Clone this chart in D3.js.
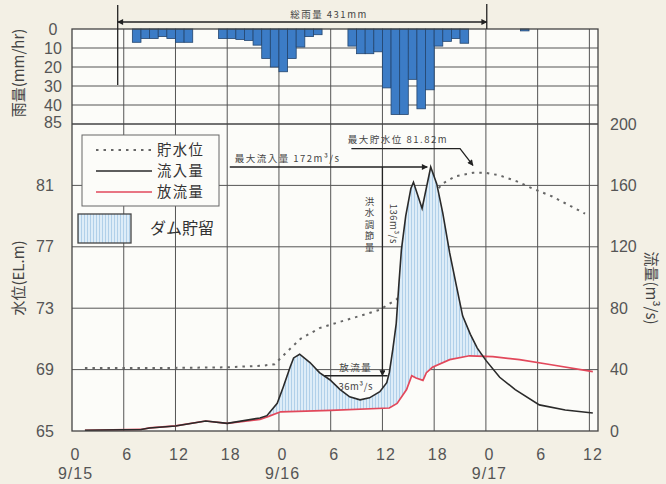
<!DOCTYPE html>
<html>
<head>
<meta charset="utf-8">
<script src="https://d3js.org/d3.v7.min.js"></script>
<style>
  body { margin: 0; background: #f3f0e5; }
  svg { display: block; font-family: "Noto Sans CJK JP", "Noto Sans", sans-serif; }
  .num { font-family: "Liberation Sans", Arial, sans-serif; font-size: 16px; fill: #555; }
</style>
</head>
<body>
<svg id="root" width="666" height="484"></svg>
<script>
// hours counted from 9/15 0:00
const hourTicks = [0, 6, 12, 18, 24, 30, 36, 42, 48, 54, 60];
const hourLabels = ["0", "6", "12", "18", "0", "6", "12", "18", "0", "6", "12"];
const dateTicks = [0, 24, 48];
const dateLabels = ["9/15", "9/16", "9/17"];
const levelTicks = [65, 69, 73, 77, 81, 85];
const flowTicks = [0, 40, 80, 120, 160, 200];
const rainTicks = [0, 10, 20, 30, 40];

// hourly rainfall (mm/hr), bar starts at hour
const rainHours = [7, 8, 9, 10, 11, 12, 13,
  17, 18, 19, 20, 21, 22, 23, 24, 25, 26, 27, 28,
  32, 33, 34, 35, 36, 37, 38, 39, 40, 41, 42, 43, 44, 45,
  52];
const rainValues = [7, 5, 5, 4, 5, 7, 7,
  5, 5, 5.5, 6, 8.5, 15.5, 20, 22.5, 15.5, 9.5, 4, 3,
  9, 13, 13, 12, 31, 45, 45, 26.5, 42, 32, 9, 6.5, 5, 7.5,
  1];

// inflow 流入量 (m3/s)
const inflowHours = [1.5, 8, 9, 12, 15.5, 18, 21.8, 22.6, 23.8, 24.5, 25.3, 25.7, 26.4,
  27.6, 28.7, 29.9, 31.1, 32.2, 33.4, 34.5, 35.7, 36.5, 36.8, 37.2, 37.6, 37.9, 38.2,
  38.7, 39.3, 39.6, 40.6, 41.6, 42.3, 43, 43.8, 44.6, 45.3, 46.2, 47, 48, 49.6, 51.4,
  54.2, 57.2, 60.4];
const inflowValues = [0.5, 1, 2, 3.3, 6.5, 5, 8.5, 10, 18, 28.7, 41.7, 47.6, 50,
  44.6, 38, 33.4, 27, 22.3, 20.3, 21.6, 25.6, 31.5, 38, 53, 70, 95, 118,
  140, 158, 162, 145, 172, 161, 142, 116, 94, 75, 63, 54, 46, 35, 27,
  17, 13.7, 11.7];

// outflow 放流量 (m3/s)
const outflowHours = [1.5, 8, 9, 12, 15.5, 18, 21.8, 22.8, 24.2, 30, 36.8, 37.7, 38.8,
  39.4, 39.9, 40.7, 41.1, 41.8, 43.8, 46.1, 48.8, 51.9, 55.4, 60.4];
const outflowValues = [0.5, 1, 2, 3.3, 6.5, 5, 7.5, 9.5, 12.5, 13.5, 15, 18, 27,
  36, 34.5, 33, 38, 41.5, 46.5, 49, 48.5, 46.5, 43.3, 38.7];

// reservoir level 貯水位 (EL.m)
const levelHours = [1.5, 10, 18, 22, 23.5, 25, 26.5, 28.7, 31, 33.4, 35.7, 37.7, 39,
  40.5, 42, 42.9, 44.5, 46.5, 48, 49.6, 51.6, 53.4, 55.7, 57.7, 59.5];
const levelValues = [69.1, 69.1, 69.15, 69.25, 69.35, 70.2, 71, 71.7, 72.1, 72.5, 72.9, 73.6, 75.5,
  78, 80.4, 81.1, 81.6, 81.82, 81.82, 81.65, 81.26, 80.8, 80.28, 79.69, 79.16];

const svg = d3.select("#root");
const defs = svg.append("defs");

const x = d3.scaleLinear().domain([0, 61]).range([72, 598]);
const yRain = d3.scaleLinear().domain([0, 50]).range([29, 124]);
const yLevel = d3.scaleLinear().domain([65, 85]).range([431, 124]);
const yFlow = d3.scaleLinear().domain([0, 200]).range([431, 124]);

const L = x.range()[0], R = x.range()[1];
const mainTop = yFlow.range()[1], mainBot = yFlow.range()[0];

// hatch for storage
const pat = defs.append("pattern").attr("id", "hatch")
  .attr("patternUnits", "userSpaceOnUse").attr("width", 3).attr("height", 6);
pat.append("rect").attr("width", 3).attr("height", 6).attr("fill", "#deedf8");
pat.append("line").attr("x1", 0.5).attr("x2", 0.5).attr("y1", 0).attr("y2", 6)
  .attr("stroke", "#abcde8").attr("stroke-width", 0.9);

defs.append("marker").attr("id", "arr")
  .attr("viewBox", "0 0 10 10").attr("refX", 9).attr("refY", 5)
  .attr("markerWidth", 7).attr("markerHeight", 6).attr("markerUnits", "userSpaceOnUse")
  .attr("orient", "auto-start-reverse")
  .append("path").attr("d", "M0,0L10,5L0,10Z").attr("fill", "#222");

// panel backgrounds
svg.append("rect").attr("x", L).attr("y", yRain.range()[0]).attr("width", R - L)
  .attr("height", mainBot - yRain.range()[0]).attr("fill", "#fcfcf9");

// grid
const grid = svg.append("g").attr("stroke", "#555").attr("stroke-width", 1);
grid.selectAll(".vg").data(hourTicks.slice(1)).enter().append("line")
  .attr("x1", d => x(d)).attr("x2", d => x(d))
  .attr("y1", yRain.range()[0]).attr("y2", mainBot);
grid.selectAll(".rg").data([10, 20, 30, 40]).enter().append("line")
  .attr("x1", L).attr("x2", R).attr("y1", d => yRain(d)).attr("y2", d => yRain(d));
grid.selectAll(".fg").data([40, 80, 120, 160]).enter().append("line")
  .attr("x1", L).attr("x2", R).attr("y1", d => yFlow(d)).attr("y2", d => yFlow(d));

// rain bars
svg.append("g").selectAll("rect").data(d3.zip(rainHours, rainValues)).enter().append("rect")
  .attr("x", d => x(d[0]))
  .attr("width", d => x(d[0] + 1) - x(d[0]))
  .attr("y", yRain(0))
  .attr("height", d => yRain(d[1]) - yRain(0))
  .attr("fill", "#3c7cc6").attr("stroke", "#23456e").attr("stroke-width", 0.8);

const inflow = d3.zip(inflowHours, inflowValues);
const outflow = d3.zip(outflowHours, outflowValues);
const level = d3.zip(levelHours, levelValues);

// reservoir level (dotted), drawn under the storage fill
svg.append("path")
  .attr("d", d3.line().x(d => x(d[0])).y(d => yLevel(d[1]))(level))
  .attr("fill", "none").attr("stroke", "#666").attr("stroke-width", 2)
  .attr("stroke-dasharray", "2.5,5");

// storage = between inflow and outflow
defs.append("clipPath").attr("id", "aboveOut").append("path")
  .attr("d", d3.area().x(d => x(d[0])).y0(mainTop).y1(d => yFlow(d[1]))(outflow));
svg.append("path")
  .attr("d", d3.area().x(d => x(d[0])).y0(yFlow(0)).y1(d => yFlow(d[1]))(inflow))
  .attr("fill", "url(#hatch)").attr("clip-path", "url(#aboveOut)");

// outflow & inflow
svg.append("path")
  .attr("d", d3.line().x(d => x(d[0])).y(d => yFlow(d[1]))(outflow))
  .attr("fill", "none").attr("stroke", "#e2485b").attr("stroke-width", 1.7);
svg.append("path")
  .attr("d", d3.line().x(d => x(d[0])).y(d => yFlow(d[1]))(inflow))
  .attr("fill", "none").attr("stroke", "#2a2a2a").attr("stroke-width", 1.6);

// frames
svg.append("rect").attr("x", L).attr("y", yRain.range()[0]).attr("width", R - L)
  .attr("height", mainBot - yRain.range()[0])
  .attr("fill", "none").attr("stroke", "#444").attr("stroke-width", 1.3);
svg.append("line").attr("x1", L).attr("x2", R).attr("y1", mainTop).attr("y2", mainTop)
  .attr("stroke", "#444").attr("stroke-width", 1.3);

// axes
const xAxis = svg.append("g").attr("transform", `translate(0,${mainBot})`)
  .call(d3.axisBottom(x).tickValues(hourTicks).tickFormat((d, i) => hourLabels[i])
    .tickSize(0).tickPadding(18));
const dAxis = svg.append("g").attr("transform", `translate(0,${mainBot})`)
  .call(d3.axisBottom(x).tickValues(dateTicks).tickFormat((d, i) => dateLabels[i])
    .tickSize(0).tickPadding(37));
const lAxis = svg.append("g").attr("transform", `translate(${L},0)`)
  .call(d3.axisLeft(yLevel).tickValues(levelTicks).tickSize(0).tickPadding(18));
const rAxis = svg.append("g").attr("transform", `translate(${L},0)`)
  .call(d3.axisLeft(yRain).tickValues(rainTicks).tickSize(0).tickPadding(10));
const fAxis = svg.append("g").attr("transform", `translate(${R},0)`)
  .call(d3.axisRight(yFlow).tickValues(flowTicks).tickSize(0).tickPadding(12));
[xAxis, dAxis, lAxis, rAxis, fAxis].forEach(a => {
  a.select(".domain").remove();
  a.selectAll("text").attr("class", "num").attr("fill", null);
});
xAxis.selectAll("text").attr("dx", 3).style("letter-spacing", "1px");
dAxis.selectAll("text").attr("dx", 3).style("letter-spacing", "1px");
lAxis.selectAll("text").attr("text-anchor", "middle").attr("x", -27);
lAxis.selectAll("text").filter(d => d === 85).attr("x", -19).attr("dy", "0.2em");
rAxis.selectAll("text").attr("text-anchor", "middle").attr("x", -19);

// axis titles
const title = (t, cx, cy, rot) => svg.append("text")
  .attr("transform", `translate(${cx},${cy}) rotate(${rot})`)
  .attr("text-anchor", "middle").attr("dy", "0.35em")
  .attr("font-size", 15).attr("fill", "#444").text(t);
title("雨量(mm/hr)", 19, 73, -90);
title("水位(EL.m)", 19, 278, -90);
title("流量(m³/s)", 651, 288, 90);

// annotations
const ann = svg.append("g").attr("fill", "#444").attr("font-size", 9.5)
  .style("letter-spacing", "1.5px");
const seg = (x1, y1, x2, y2, a) => {
  const l = ann.append("line").attr("x1", x1).attr("y1", y1).attr("x2", x2).attr("y2", y2)
    .attr("stroke", "#222").attr("stroke-width", 1.3);
  if (a === "end" || a === "both") l.attr("marker-end", "url(#arr)");
  if (a === "both") l.attr("marker-start", "url(#arr)");
  return l;
};
// total rainfall
seg(x(5.3), 5, x(5.3), yRain(29.5));
seg(x(48.1), 4, x(48.1), yRain(0));
seg(x(5.3), 22, x(48.1), 22, "both");
ann.append("text").attr("x", x(29.8)).attr("y", 18).attr("text-anchor", "middle")
  .text("総雨量 431mm");

// max inflow
seg(x(18.3), yFlow(172), x(41.2), yFlow(172), "end");
ann.append("text").attr("x", x(25)).attr("y", yFlow(172) - 5).attr("text-anchor", "middle")
  .text("最大流入量 172m³/s");

// max reservoir level
ann.append("polyline")
  .attr("points", [[x(32.4), yFlow(184)], [x(45), yFlow(184)], [x(46.5), yFlow(173)]].join(" "))
  .attr("fill", "none").attr("stroke", "#222").attr("stroke-width", 1.3)
  .attr("marker-end", "url(#arr)");
ann.append("text").attr("x", x(37.8)).attr("y", yFlow(184) - 6).attr("text-anchor", "middle")
  .text("最大貯水位 81.82m");

// flood control
seg(x(36), yFlow(172), x(36), yFlow(36), "end");
ann.append("text").attr("x", x(36) - 13).attr("y", yFlow(134))
  .attr("text-anchor", "middle")
  .style("writing-mode", "vertical-rl").style("letter-spacing", "2px")
  .text("洪水調節量");
ann.append("text").attr("transform", `translate(${x(36) + 8},${yFlow(135)}) rotate(90)`)
  .attr("text-anchor", "middle").style("letter-spacing", "0.5px").text("136m³/s");

// outflow at that time
seg(x(29.3), yFlow(36), x(36.6), yFlow(36));
ann.append("text").attr("x", x(32.9)).attr("y", yFlow(36) - 5).attr("text-anchor", "middle")
  .text("放流量");
ann.append("text").attr("x", x(32.9)).attr("y", yFlow(36) + 14).attr("text-anchor", "middle")
  .style("letter-spacing", "0.5px").text("36m³/s");

// legend
const lg = svg.append("g");
lg.append("rect").attr("x", 82).attr("y", 135).attr("width", 137).attr("height", 71)
  .attr("fill", "#fcfcf9").attr("stroke", "#666").attr("stroke-width", 1);
const items = [
  { t: "貯水位", c: "#666", dash: "2.5,5", w: 2, y: 150 },
  { t: "流入量", c: "#2a2a2a", dash: null, w: 1.7, y: 171 },
  { t: "放流量", c: "#e2485b", dash: null, w: 1.7, y: 192 }
];
items.forEach(it => {
  lg.append("line").attr("x1", 96).attr("x2", 152).attr("y1", it.y).attr("y2", it.y)
    .attr("stroke", it.c).attr("stroke-width", it.w).attr("stroke-dasharray", it.dash);
  lg.append("text").attr("x", 157).attr("y", it.y).attr("dy", "0.36em")
    .attr("font-size", 14.3).attr("fill", "#333").style("letter-spacing", "1.5px").text(it.t);
});
lg.append("rect").attr("x", 78).attr("y", 214).attr("width", 53).attr("height", 29)
  .attr("fill", "url(#hatch)").attr("stroke", "#444").attr("stroke-width", 1.3);
lg.append("text").attr("x", 150).attr("y", 228).attr("dy", "0.36em")
  .attr("font-size", 16).attr("fill", "#333").text("ダム貯留");
</script>
</body>
</html>
